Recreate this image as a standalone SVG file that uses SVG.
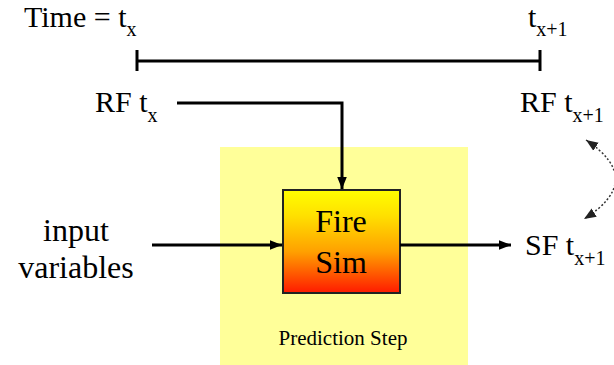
<svg xmlns="http://www.w3.org/2000/svg" width="614" height="365" viewBox="0 0 614 365" font-family="'Liberation Serif', serif">
<style>
text{font-family:'Liberation Serif',serif;fill:#000}
.big{font-size:30px}
.lbl{font-size:32px}
.sub{font-size:20px}
.conn{stroke:#000;stroke-width:3;fill:none}
</style>
<defs>
<linearGradient id="fire" x1="0" y1="0" x2="0" y2="1">
<stop offset="0" stop-color="#ffff00"/>
<stop offset="0.25" stop-color="#ffe000"/>
<stop offset="0.6" stop-color="#ffa000"/>
<stop offset="1" stop-color="#ff1a00"/>
</linearGradient>
<marker id="ah" viewBox="0 0 10 10" refX="10" refY="5" markerWidth="4" markerHeight="4" orient="auto" markerUnits="strokeWidth">
<path d="M0,1 L10,5 L0,9 z" fill="#000"/>
</marker>
<marker id="ahs" viewBox="0 0 10 10" refX="10" refY="5" markerWidth="8" markerHeight="8" orient="auto-start-reverse" markerUnits="strokeWidth">
<path d="M0,1 L10,5 L0,9 z" fill="#222"/>
</marker>
</defs>
<g id="prediction-step">
<rect x="220" y="147" width="248" height="220" fill="#ffff99"/>
<text x="343" y="345" font-size="21" text-anchor="middle">Prediction Step</text>
</g>
<g id="timeline">
<line x1="137" y1="61" x2="540" y2="61" stroke="#000" stroke-width="3"/>
<line x1="137" y1="50" x2="137" y2="71" stroke="#000" stroke-width="3"/>
<line x1="540" y1="50" x2="540" y2="71" stroke="#000" stroke-width="3"/>
</g>
<g id="time-label"><text class="big" x="24" y="27">Time = t<tspan class="sub" dy="9">x</tspan></text></g>
<g id="tx1-label"><text class="big" x="528" y="27">t<tspan class="sub" dy="9">x+1</tspan></text></g>
<g id="rf-tx"><text class="big" x="95" y="112">RF t<tspan class="sub" dy="10">x</tspan></text></g>
<g id="rf-tx1"><text class="big" x="520" y="112">RF t<tspan class="sub" dy="10">x+1</tspan></text></g>
<g id="input"><text class="lbl" x="76" y="241" text-anchor="middle">input</text><text class="lbl" x="76" y="278" text-anchor="middle">variables</text></g>
<g id="sf-tx1"><text class="big" x="525" y="255">SF t<tspan class="sub" dy="10">x+1</tspan></text></g>
<g id="fire-sim">
<rect x="283" y="190" width="117" height="103" fill="url(#fire)" stroke="#222" stroke-width="2"/>
<text class="lbl" x="341" y="232" text-anchor="middle">Fire</text>
<text class="lbl" x="341" y="273" text-anchor="middle">Sim</text>
</g>
<g id="connectors">
<path class="conn" d="M177,103 H342 V189" marker-end="url(#ah)"/>
<path class="conn" d="M152,245 H282" marker-end="url(#ah)"/>
<path class="conn" d="M400,245 H511" marker-end="url(#ah)"/>
<path d="M586,140 Q646,180 584,219" fill="none" stroke="#333" stroke-width="1.5" stroke-dasharray="2,2" marker-start="url(#ahs)" marker-end="url(#ahs)"/>
</g>
</svg>
